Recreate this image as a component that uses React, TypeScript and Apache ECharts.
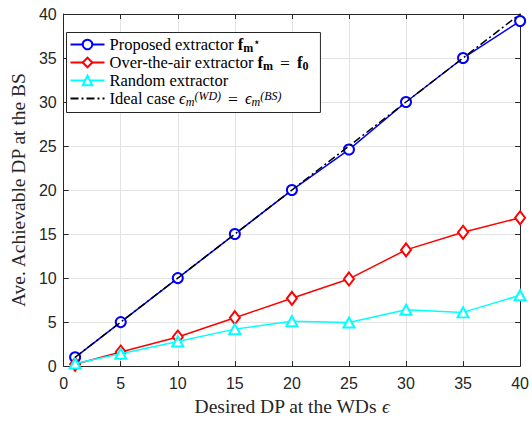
import React, { useEffect, useRef } from "react";
import * as echarts from "echarts";

const xValues = [1, 5, 10, 15, 20, 25, 30, 35, 40];
const proposed = [1.0, 5.0, 10.0, 15.0, 20.0, 24.6, 30.0, 35.0, 39.2];
const overTheAir = [0.2, 1.6, 3.3, 5.5, 7.7, 9.9, 13.2, 15.2, 16.85];
const randomExt = [0.3, 1.4, 2.8, 4.2, 5.1, 4.95, 6.4, 6.1, 8.05];
const ideal = [1, 5, 10, 15, 20, 25, 30, 35, 40];

const legendLabels: Record<string, string> = {
  proposed: "Proposed extractor {b|f}{sub|m}{sup|⋆}",
  ota: "Over-the-air extractor {b|f}{sub|m}{eq|=}{b|f}{sub|0}",
  random: "Random extractor",
  ideal: "Ideal case {i|ϵ}{subi|m}{supi|(WD)}{eq|=}{i|ϵ}{subi|m}{supi|(BS)}",
};

const AXIS_COLOR = "#262626";
const GRID_COLOR = "#e3e3e3";
const SERIF = "'Liberation Serif', 'Times New Roman', serif";
const SANS = "'Liberation Sans', Arial, Helvetica, sans-serif";
const LEG = 16.5;
const SMALL = 12;
const TITLE = 19.5;

const pairs = (ys: number[]) => xValues.map((x, i) => [x, ys[i]]);

export default function App() {
  const ref = useRef<HTMLDivElement>(null);
  useEffect(() => {
    if (!ref.current) return;
    const chart = echarts.init(ref.current, undefined, { renderer: "svg" });
    const axisCommon = {
      type: "value" as const,
      min: 0,
      max: 40,
      interval: 5,
      axisLine: { show: true, onZero: false, lineStyle: { color: AXIS_COLOR, width: 1 } },
      axisTick: { show: true, inside: true, length: 5, lineStyle: { color: AXIS_COLOR } },
    };
    chart.setOption({
      animation: false,
      backgroundColor: "#ffffff",
      grid: { left: 59.5, right: 11, top: 14, bottom: 45.5, containLabel: false },
      xAxis: [
        {
          ...axisCommon,
          position: "bottom",
          name: "Desired DP at the WDs {i|ϵ}",
          nameLocation: "middle",
          nameGap: 27,
          nameTextStyle: {
            fontFamily: SERIF,
            fontSize: TITLE,
            color: AXIS_COLOR,
            rich: { i: { fontFamily: SERIF, fontStyle: "italic", fontSize: TITLE, color: AXIS_COLOR } },
          },
          axisLabel: { fontFamily: SANS, fontSize: 16, color: AXIS_COLOR, margin: 9 },
          splitLine: { show: true, lineStyle: { color: GRID_COLOR, width: 1 } },
        },
        {
          ...axisCommon,
          position: "top",
          axisLabel: { show: false },
          splitLine: { show: false },
        },
      ],
      yAxis: [
        {
          ...axisCommon,
          position: "left",
          name: "Ave. Achievable DP at the BS",
          nameLocation: "middle",
          nameGap: 26,
          nameTextStyle: { fontFamily: SERIF, fontSize: TITLE, color: AXIS_COLOR },
          axisLabel: { fontFamily: SANS, fontSize: 16, color: AXIS_COLOR, margin: 7 },
          splitLine: { show: true, lineStyle: { color: GRID_COLOR, width: 1 } },
        },
        {
          ...axisCommon,
          position: "right",
          axisLabel: { show: false },
          splitLine: { show: false },
        },
      ],
      legend: {
        data: [
          { name: "proposed" },
          { name: "ota" },
          { name: "random" },
          { name: "ideal", itemStyle: { opacity: 0 } },
        ],
        orient: "vertical",
        left: 66.5,
        top: 32.5,
        itemWidth: 34,
        itemHeight: 12,
        itemGap: 0,
        padding: [3, 12, 5, 3],
        backgroundColor: "#ffffff",
        borderColor: AXIS_COLOR,
        borderWidth: 1,
        borderRadius: 0,
        formatter: (name: string) => legendLabels[name],
        textStyle: {
          fontFamily: SERIF,
          fontSize: LEG,
          color: "#000000",
          lineHeight: 18,
          rich: {
            b: { fontFamily: SERIF, fontWeight: "bold", fontSize: LEG, lineHeight: 18, color: "#000" },
            i: { fontFamily: SERIF, fontStyle: "italic", fontSize: LEG, lineHeight: 18, color: "#000" },
            eq: { fontFamily: SERIF, fontSize: LEG + 1, lineHeight: 18, padding: [0, 7, 0, 7], color: "#000" },
            sub: { fontFamily: SERIF, fontWeight: "bold", fontSize: SMALL, lineHeight: 11, verticalAlign: "bottom", color: "#000" },
            subi: { fontFamily: SERIF, fontStyle: "italic", fontSize: SMALL, lineHeight: 11, verticalAlign: "bottom", color: "#000" },
            sup: { fontFamily: SERIF, fontSize: SMALL, lineHeight: 11, verticalAlign: "top", color: "#000" },
            supi: { fontFamily: SERIF, fontStyle: "italic", fontSize: SMALL, lineHeight: 11, verticalAlign: "top", color: "#000" },
          },
        },
      },
      series: [
        {
          name: "proposed",
          type: "line",
          data: pairs(proposed),
          symbol: "emptyCircle",
          symbolSize: 10,
          color: "#0000ff",
          lineStyle: { color: "#0000ff", width: 1.5 },
          itemStyle: { color: "#0000ff", borderColor: "#0000ff", borderWidth: 1.5 },
          z: 3,
        },
        {
          name: "ota",
          type: "line",
          data: pairs(overTheAir),
          symbol: "emptyDiamond",
          symbolSize: [10, 13],
          color: "#ff0000",
          lineStyle: { color: "#ff0000", width: 1.5 },
          itemStyle: { color: "#ff0000", borderColor: "#ff0000", borderWidth: 1.5 },
          z: 4,
        },
        {
          name: "random",
          type: "line",
          data: pairs(randomExt),
          symbol: "emptyTriangle",
          symbolSize: [11, 10],
          color: "#00ffff",
          lineStyle: { color: "#00ffff", width: 1.5 },
          itemStyle: { color: "#00ffff", borderColor: "#00ffff", borderWidth: 1.5 },
          z: 5,
        },
        {
          name: "ideal",
          type: "line",
          data: pairs(ideal),
          symbol: "none",
          color: "#000000",
          lineStyle: { color: "#000000", width: 1.5, type: [8, 3, 2, 3] },
          itemStyle: { opacity: 0 },
          z: 6,
        },
      ],
    });
    return () => chart.dispose();
  }, []);
  return (
    <div
      ref={ref}
      style={{ position: "fixed", left: 0, top: 0, width: 532, height: 421, background: "#fff" }}
    />
  );
}
